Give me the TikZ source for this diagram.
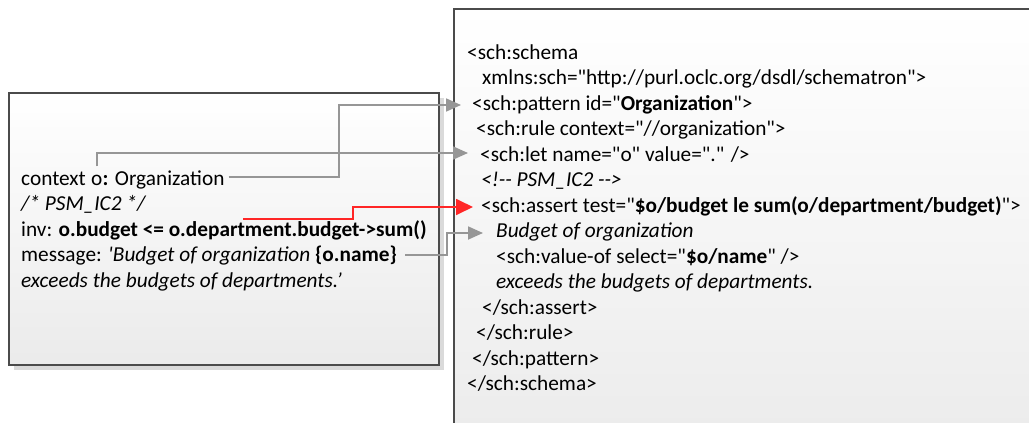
\documentclass[tikz,border=0pt]{standalone}
\usepackage{fontspec}
\setmainfont{Carlito}
\usetikzlibrary{arrows.meta,calc}
\definecolor{linkgray}{RGB}{150,150,150}
\definecolor{linkred}{RGB}{255,38,38}
\definecolor{boxline}{RGB}{75,75,75}
\definecolor{boxshadow}{RGB}{218,218,218}
\newcommand{\dd}{\mbox{-}\mbox{-}}
\newcommand{\q}{\textquotedbl}
\begin{document}
\begin{tikzpicture}[x=1pt,y=-1pt,
  txt/.style={anchor=base west,inner sep=0pt,font=\fontsize{21.3}{25.5}\selectfont},
  panel/.style={draw=boxline,line width=1.3pt,top color=white,bottom color=black!8},
  conn/.style={draw=linkgray,line width=1.8pt,
    -{Triangle[length=15pt,width=13pt]}},
  redconn/.style={draw=linkred,line width=1.8pt,
    -{Triangle[length=17pt,width=16pt]}}]
\useasboundingbox (0,0) rectangle (1029,423);
\clip (0,0) rectangle (1029,423);

% OCL panel with its drop shadow
\fill[boxshadow] (14,98) rectangle (444,370);
\draw[panel] (9,93) rectangle (439,365);

% Schematron panel, running past the right and bottom edges
\draw[panel] (454,9) rectangle (1050,460);

% OCL constraint
\node[txt] (ctx) at (21,185) {context};
\node[txt] (ctxo) at ([xshift=4.8pt]ctx.base east) {o};
\node[txt] (ctxorg) at (ctxo.base east) {\textbf{:} Organization};
\node[txt] (l2) at (21,210.5) {\itshape /* PSM\_IC2 */};
\node[txt] (l3) at (21,236) {inv: \textbf{o.budget <= o.department.budget->sum()}};
\node[txt] (l4) at (21,261.5) {message: \textit{\textquotesingle Budget of organization} \textbf{\{o.name\}}};
\node[txt] (l5) at (21,287) {\itshape exceeds the budgets of departments.’};

% Schematron code
\node[txt] (r1) at (467,59) {<sch:schema};
\node[txt] (r2) at (482,84.5) {xmlns:sch=\q http://purl.oclc.org/dsdl/schematron\q>};
\node[txt] (r3) at (472,110) {<sch:pattern id=\q\textbf{Organization}\q>};
\node[txt] (r4) at (476,135.5) {<sch:rule context=\q//organization\q>};
\node[txt] (r5) at (480,161) {<sch:let name=\q o\q{} value=\q.\q{} />};
\node[txt] (r6) at (481,186.5) {\itshape <!\dd{} PSM\_IC2 \dd{}>};
\node[txt] (r7) at (481,212) {<sch:assert test=\q\textbf{\$o/budget le sum(o/department/budget)}\q>};
\node[txt] (r8) at (496,237.5) {\itshape Budget of organization};
\node[txt] (r9) at (496,263) {<sch:value-of select=\q\textbf{\$o/name}\q{} />};
\node[txt] (r10) at (496,288.5) {\itshape exceeds the budgets of departments.};
\node[txt] (r11) at (482,314) {</sch:assert>};
\node[txt] (r12) at (476,339.5) {</sch:rule>};
\node[txt] (r13) at (472,365) {</sch:pattern>};
\node[txt] (r14) at (467,390.5) {</sch:schema>};

% arrow targets in front of the Schematron lines
\coordinate (tipP) at ([xshift=-11pt,yshift=5pt]r3.base west);
\coordinate (tipL) at ([xshift=-12pt,yshift=8pt]r5.base west);
\coordinate (tipA) at ([xshift=-8pt,yshift=5pt]r7.base west);
\coordinate (tipB) at ([xshift=-13pt,yshift=4.5pt]r8.base west);
\coordinate (redstart) at ([xshift=222pt,yshift=17pt]l3.base west);

% correspondences
\draw[conn] ([xshift=4pt,yshift=8pt]ctxorg.base east) -- ++(110,0) |- (tipP);
\draw[conn] ([yshift=8pt]ctxo.north) |- (tipL);
\draw[redconn] (redstart) -- ++(110,0) |- (tipA);
\draw[conn] ([xshift=8pt,yshift=6.5pt]l4.base east) -- ++(42,0) |- (tipB);
\end{tikzpicture}
\end{document}
